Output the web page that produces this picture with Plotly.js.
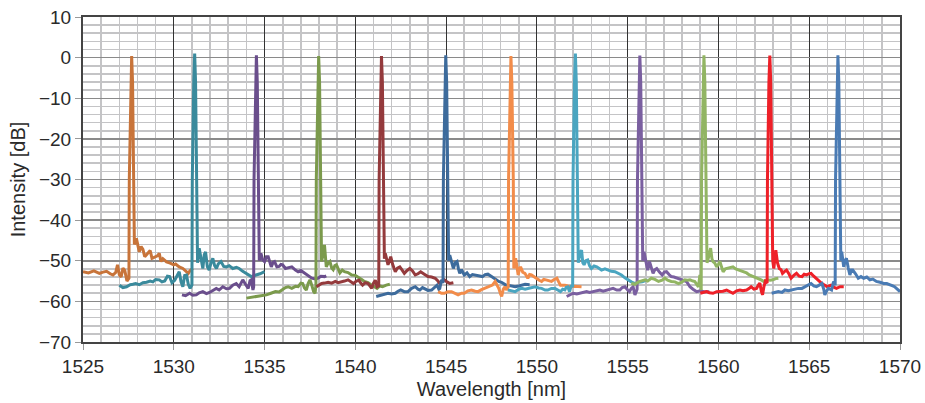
<!DOCTYPE html>
<html>
<head>
<meta charset="utf-8">
<script src="https://cdn.plot.ly/plotly-3.0.1.min.js"></script>
<style>html,body{margin:0;padding:0;background:#fff;}#chart{width:925px;height:403px;}</style>
</head>
<body>
<div id="chart"></div>
<script>
// Each series: [wavelength nm, intensity dB] pairs
const s1 = [[1525.0,-52.7],[1525.3,-53.0],[1525.6,-52.5],[1525.9,-53.1],[1526.1,-52.8],[1526.3,-52.6],[1526.5,-53.2],[1526.65,-53.5],[1526.8,-52.9],[1526.9,-51.0],[1527.0,-53.4],[1527.1,-54.0],[1527.2,-51.8],[1527.3,-52.4],[1527.42,-55.0],[1527.53,-54.3],[1527.55,-30],[1527.63,-6],[1527.68,0.4],[1527.73,-6],[1527.81,-30],[1527.83,-46],[1527.94,-44.5],[1528.02,-46.5],[1528.1,-47.8],[1528.2,-46.5],[1528.3,-47.2],[1528.4,-49.0],[1528.5,-48.5],[1528.6,-48.0],[1528.7,-47.5],[1528.8,-49.4],[1528.95,-49.0],[1529.1,-48.8],[1529.2,-48.2],[1529.3,-50.2],[1529.4,-49.5],[1529.6,-50.3],[1529.8,-50.6],[1530.0,-51.0],[1530.1,-50.8],[1530.3,-51.5],[1530.5,-51.9],[1530.65,-52.5],[1530.8,-53.1],[1530.9,-52.4],[1531.05,-51.9]];
const s2 = [[1527.0,-56.0],[1527.2,-56.6],[1527.4,-56.4],[1527.6,-55.9],[1527.75,-55.8],[1527.9,-55.6],[1528.1,-55.9],[1528.3,-55.4],[1528.5,-55.3],[1528.7,-55.0],[1528.85,-55.2],[1529.0,-54.6],[1529.2,-54.7],[1529.35,-55.2],[1529.5,-55.0],[1529.65,-53.8],[1529.77,-53.9],[1529.9,-55.4],[1530.05,-54.8],[1530.2,-53.5],[1530.3,-52.7],[1530.4,-55.2],[1530.5,-56.4],[1530.6,-53.6],[1530.7,-53.5],[1530.8,-55.8],[1530.9,-56.8],[1531.0,-56.0],[1531.02,-30],[1531.1,-6],[1531.15,1.0],[1531.2,-6],[1531.28,-30],[1531.31,-50.5],[1531.4,-46.9],[1531.5,-50],[1531.6,-51.9],[1531.68,-48.5],[1531.75,-47.8],[1531.85,-51.5],[1531.95,-52.3],[1532.05,-50.5],[1532.15,-49.4],[1532.25,-51.2],[1532.35,-51.9],[1532.45,-50.8],[1532.6,-50.2],[1532.75,-51.4],[1532.9,-51.5],[1533.05,-51.2],[1533.25,-51.9],[1533.45,-51.6],[1533.6,-51.9],[1533.8,-52.6],[1534.0,-53.1],[1534.15,-53.6],[1534.27,-53.9],[1534.4,-53.7],[1534.55,-53.5],[1534.75,-53.2],[1535.0,-52.7]];
const s3 = [[1530.45,-58.4],[1530.65,-58.6],[1530.87,-58.0],[1531.05,-58.5],[1531.24,-58.4],[1531.4,-57.9],[1531.6,-57.6],[1531.8,-58.1],[1531.97,-57.8],[1532.15,-57.3],[1532.34,-56.8],[1532.5,-57.2],[1532.7,-56.4],[1532.9,-56.9],[1533.07,-56.8],[1533.25,-56.0],[1533.44,-55.6],[1533.6,-56.4],[1533.8,-54.7],[1533.95,-55.8],[1534.1,-56.8],[1534.2,-54.9],[1534.27,-54.7],[1534.36,-57.2],[1534.4,-56.5],[1534.42,-30],[1534.5,-6],[1534.55,0.6],[1534.6,-6],[1534.68,-30],[1534.71,-50],[1534.8,-48.2],[1534.9,-49.8],[1535.0,-50.2],[1535.1,-49.0],[1535.2,-49.0],[1535.3,-50.6],[1535.37,-51.5],[1535.47,-50.4],[1535.55,-50.2],[1535.68,-51.5],[1535.8,-51.4],[1535.9,-50.9],[1536.0,-51.0],[1536.15,-51.9],[1536.3,-51.8],[1536.5,-51.5],[1536.7,-52.3],[1536.85,-52.7],[1537.0,-52.4],[1537.2,-53.1],[1537.4,-53.6],[1537.6,-54.3],[1537.8,-54.5],[1537.95,-54.3],[1538.1,-53.8],[1538.3,-53.9],[1538.4,-53.7]];
const s4 = [[1534.0,-59.2],[1534.25,-59.0],[1534.55,-58.7],[1534.8,-58.6],[1535.1,-58.4],[1535.35,-58.0],[1535.6,-57.6],[1535.8,-57.7],[1536.0,-57.0],[1536.15,-56.6],[1536.3,-56.4],[1536.5,-56.8],[1536.7,-56.3],[1536.85,-56.4],[1537.0,-55.5],[1537.1,-55.6],[1537.2,-56.7],[1537.3,-57.2],[1537.4,-55.6],[1537.5,-54.7],[1537.6,-56.0],[1537.7,-57.6],[1537.78,-58.0],[1537.83,-56.0],[1537.85,-30],[1537.93,-6],[1537.98,0.4],[1538.03,-6],[1538.11,-30],[1538.14,-50.2],[1538.22,-48.5],[1538.3,-46.1],[1538.4,-51.5],[1538.5,-50.6],[1538.6,-50.2],[1538.7,-51.8],[1538.78,-52.2],[1538.87,-51.2],[1538.96,-51.0],[1539.05,-52.2],[1539.15,-53.0],[1539.28,-52.3],[1539.4,-52.7],[1539.6,-52.9],[1539.8,-53.5],[1540.0,-53.6],[1540.2,-54.3],[1540.35,-54.6],[1540.5,-55.1],[1540.7,-55.4],[1540.9,-56.0],[1541.05,-56.5],[1541.2,-56.8],[1541.35,-56.2],[1541.5,-56.4],[1541.7,-56.0],[1541.9,-55.8]];
const s5 = [[1537.86,-56.4],[1538.0,-56.0],[1538.14,-55.6],[1538.3,-55.5],[1538.5,-55.3],[1538.7,-55.5],[1538.9,-55.1],[1539.05,-55.4],[1539.2,-55.3],[1539.4,-55.0],[1539.6,-54.7],[1539.75,-55.2],[1539.9,-55.6],[1540.05,-55.0],[1540.2,-54.8],[1540.3,-55.5],[1540.4,-56.0],[1540.55,-55.4],[1540.7,-55.6],[1540.8,-56.2],[1540.9,-56.8],[1541.0,-55.5],[1541.1,-54.8],[1541.2,-56.4],[1541.29,-56.2],[1541.31,-30],[1541.39,-6],[1541.44,0.4],[1541.49,-6],[1541.57,-30],[1541.6,-49.5],[1541.65,-48.2],[1541.72,-49.8],[1541.8,-51.0],[1541.88,-50.0],[1541.95,-49.0],[1542.05,-50.8],[1542.2,-52.7],[1542.32,-51.8],[1542.45,-51.5],[1542.58,-52.3],[1542.7,-53.1],[1542.85,-52.4],[1543.0,-51.9],[1543.15,-52.5],[1543.3,-53.5],[1543.45,-53.2],[1543.6,-52.7],[1543.8,-53.3],[1544.0,-53.9],[1544.2,-54.0],[1544.4,-54.3],[1544.55,-55.0],[1544.65,-55.6],[1544.78,-55.0],[1544.9,-54.7],[1545.05,-55.2],[1545.2,-55.6],[1545.4,-55.4]];
const s6 = [[1541.15,-58.8],[1541.3,-58.6],[1541.44,-58.4],[1541.6,-58.3],[1541.8,-58.0],[1542.0,-58.2],[1542.2,-58.0],[1542.35,-57.5],[1542.5,-57.2],[1542.7,-57.6],[1542.9,-57.6],[1543.1,-56.8],[1543.3,-56.4],[1543.45,-57.0],[1543.55,-57.2],[1543.7,-56.6],[1543.8,-56.8],[1544.0,-57.3],[1544.2,-57.2],[1544.35,-56.5],[1544.5,-56.0],[1544.6,-57.0],[1544.65,-56.8],[1544.75,-54.7],[1544.83,-55.5],[1544.85,-30],[1544.93,-6],[1544.98,0.6],[1545.03,-6],[1545.11,-30],[1545.14,-50.0],[1545.2,-48.6],[1545.3,-50.5],[1545.4,-51.9],[1545.5,-50.5],[1545.6,-50.2],[1545.68,-52.0],[1545.75,-53.1],[1545.85,-52.2],[1546.0,-53.5],[1546.15,-53.0],[1546.3,-53.9],[1546.45,-53.4],[1546.6,-53.5],[1546.8,-53.8],[1547.0,-53.9],[1547.15,-53.4],[1547.3,-53.3],[1547.5,-53.9],[1547.7,-54.5],[1547.9,-55.1],[1548.05,-55.3],[1548.15,-55.6],[1548.3,-56.0],[1548.4,-56.0],[1548.6,-56.2],[1548.8,-56.4],[1549.0,-56.2],[1549.16,-56.0],[1549.35,-55.8],[1549.6,-55.9]];
const s7 = [[1544.56,-57.6],[1544.75,-58.0],[1544.9,-58.0],[1545.1,-57.6],[1545.3,-57.6],[1545.5,-58.1],[1545.66,-58.4],[1545.85,-58.0],[1546.0,-58.0],[1546.2,-57.4],[1546.4,-57.2],[1546.6,-57.5],[1546.76,-57.6],[1546.95,-57.1],[1547.1,-56.8],[1547.25,-56.6],[1547.4,-56.4],[1547.55,-56.0],[1547.7,-55.1],[1547.8,-56.0],[1547.9,-56.8],[1548.0,-58.2],[1548.06,-58.8],[1548.15,-57.0],[1548.24,-56.4],[1548.32,-57.2],[1548.42,-56.5],[1548.44,-30],[1548.52,-6],[1548.57,0.4],[1548.62,-6],[1548.7,-30],[1548.73,-51.9],[1548.77,-50.5],[1548.83,-49.4],[1548.9,-51.5],[1548.97,-53.5],[1549.04,-52.0],[1549.1,-51.5],[1549.22,-52.8],[1549.34,-53.1],[1549.5,-54.3],[1549.6,-53.4],[1549.7,-53.5],[1549.85,-54.0],[1550.0,-54.3],[1550.13,-54.8],[1550.26,-55.1],[1550.38,-54.6],[1550.5,-54.7],[1550.65,-55.0],[1550.8,-55.1],[1550.95,-54.6],[1551.1,-54.3],[1551.2,-55.2],[1551.3,-56.0],[1551.42,-56.0],[1551.54,-56.0],[1551.7,-56.2],[1551.9,-56.4],[1552.05,-56.3],[1552.2,-56.4],[1552.46,-56.4]];
const s8 = [[1548.4,-57.2],[1548.6,-57.4],[1548.8,-57.6],[1549.0,-57.0],[1549.16,-56.8],[1549.35,-57.0],[1549.5,-56.8],[1549.7,-56.5],[1549.9,-56.4],[1550.1,-56.7],[1550.26,-56.8],[1550.45,-57.2],[1550.6,-57.2],[1550.8,-56.8],[1551.0,-56.8],[1551.15,-57.2],[1551.3,-57.6],[1551.42,-57.0],[1551.54,-57.2],[1551.62,-56.5],[1551.7,-56.4],[1551.8,-57.6],[1551.9,-56.0],[1551.97,-56.5],[1551.99,-30],[1552.07,-6],[1552.12,1.0],[1552.17,-6],[1552.25,-30],[1552.28,-50.5],[1552.32,-49.4],[1552.38,-48.0],[1552.46,-47.4],[1552.53,-50.5],[1552.6,-51.0],[1552.7,-50.0],[1552.8,-49.8],[1552.9,-51.2],[1553.0,-51.9],[1553.15,-51.3],[1553.3,-51.5],[1553.45,-52.0],[1553.56,-52.3],[1553.75,-52.0],[1553.93,-52.3],[1554.1,-52.6],[1554.3,-52.7],[1554.5,-53.2],[1554.66,-53.5],[1554.85,-54.2],[1555.0,-54.7],[1555.2,-55.2],[1555.4,-55.6],[1555.6,-55.3],[1555.8,-55.2],[1555.95,-54.9],[1556.1,-54.7]];
const s9 = [[1551.64,-58.8],[1551.8,-58.4],[1552.0,-58.0],[1552.2,-58.2],[1552.37,-58.0],[1552.55,-57.7],[1552.74,-57.6],[1552.9,-57.8],[1553.1,-57.6],[1553.3,-57.3],[1553.47,-57.2],[1553.65,-57.5],[1553.84,-57.2],[1554.0,-57.0],[1554.2,-56.8],[1554.4,-57.2],[1554.57,-57.2],[1554.7,-56.6],[1554.85,-56.4],[1555.0,-57.2],[1555.1,-57.6],[1555.2,-56.8],[1555.3,-56.4],[1555.4,-58.4],[1555.52,-57.0],[1555.54,-30],[1555.62,-6],[1555.67,0.5],[1555.72,-6],[1555.8,-30],[1555.83,-50.0],[1555.9,-47.8],[1556.0,-50.5],[1556.1,-52.3],[1556.2,-50.2],[1556.3,-51.5],[1556.4,-53.1],[1556.5,-52.2],[1556.6,-51.9],[1556.75,-52.8],[1556.9,-53.5],[1557.02,-52.8],[1557.14,-52.7],[1557.28,-53.4],[1557.4,-53.9],[1557.55,-54.0],[1557.7,-54.3],[1557.85,-54.4],[1558.0,-54.7],[1558.24,-55.1],[1558.43,-56.4],[1558.6,-57.0],[1558.8,-57.6],[1559.0,-57.4],[1559.2,-57.6],[1559.5,-57.6]];
const s10 = [[1555.2,-55.6],[1555.4,-55.8],[1555.6,-55.2],[1555.8,-55.0],[1555.95,-54.7],[1556.1,-55.0],[1556.3,-54.3],[1556.5,-54.6],[1556.7,-55.1],[1556.9,-54.8],[1557.05,-54.3],[1557.2,-54.8],[1557.4,-55.1],[1557.6,-55.2],[1557.8,-55.6],[1558.0,-55.2],[1558.15,-54.7],[1558.3,-54.8],[1558.43,-54.7],[1558.6,-55.0],[1558.7,-55.1],[1558.8,-55.8],[1558.9,-56.4],[1558.98,-53.5],[1559.05,-57.2],[1559.07,-30],[1559.15,-6],[1559.2,0.6],[1559.25,-6],[1559.33,-30],[1559.37,-50.5],[1559.44,-49.4],[1559.5,-48.0],[1559.57,-46.9],[1559.64,-49.5],[1559.7,-50.2],[1559.8,-50.6],[1559.9,-51.5],[1560.0,-50.8],[1560.08,-50.2],[1560.17,-51.5],[1560.26,-52.7],[1560.38,-52.0],[1560.5,-51.9],[1560.65,-51.6],[1560.8,-51.5],[1560.95,-52.0],[1561.1,-52.3],[1561.25,-52.5],[1561.4,-52.7],[1561.55,-53.0],[1561.7,-53.5],[1561.9,-53.9],[1562.05,-54.1],[1562.2,-54.3],[1562.35,-54.7],[1562.5,-55.1],[1562.7,-54.7],[1562.85,-54.8],[1563.0,-54.7],[1563.15,-54.4],[1563.3,-54.3]];
const s11 = [[1559.0,-58.0],[1559.2,-57.8],[1559.35,-57.6],[1559.5,-57.9],[1559.7,-58.0],[1559.9,-57.6],[1560.08,-57.6],[1560.25,-57.5],[1560.45,-57.2],[1560.6,-57.6],[1560.8,-58.0],[1561.0,-57.4],[1561.18,-57.2],[1561.35,-57.4],[1561.55,-57.2],[1561.7,-56.8],[1561.8,-56.4],[1561.95,-57.0],[1562.1,-56.8],[1562.2,-56.0],[1562.28,-55.5],[1562.36,-57.5],[1562.43,-58.4],[1562.5,-56.5],[1562.58,-55.1],[1562.68,-55.5],[1562.7,-30],[1562.78,-6],[1562.83,0.5],[1562.88,-6],[1562.96,-30],[1562.99,-50.0],[1563.05,-51.9],[1563.1,-49.0],[1563.16,-47.4],[1563.25,-50.5],[1563.35,-51.9],[1563.45,-52.2],[1563.53,-53.1],[1563.65,-52.6],[1563.75,-52.3],[1563.88,-53.2],[1564.0,-54.3],[1564.15,-53.6],[1564.3,-53.1],[1564.45,-53.8],[1564.6,-53.9],[1564.72,-53.3],[1564.85,-53.5],[1565.0,-53.2],[1565.1,-53.1],[1565.25,-53.8],[1565.4,-54.3],[1565.55,-55.0],[1565.7,-55.6],[1565.85,-56.0],[1566.0,-56.4],[1566.1,-56.2],[1566.2,-56.0],[1566.35,-56.5],[1566.5,-56.8],[1566.7,-56.4],[1566.9,-56.4]];
const s12 = [[1562.93,-58.0],[1563.1,-57.8],[1563.3,-57.6],[1563.5,-57.8],[1563.66,-57.2],[1563.85,-57.4],[1564.0,-57.2],[1564.2,-57.0],[1564.4,-56.8],[1564.6,-56.8],[1564.76,-56.4],[1564.95,-56.0],[1565.1,-55.6],[1565.25,-56.2],[1565.4,-56.4],[1565.55,-56.0],[1565.7,-55.6],[1565.8,-57.0],[1565.86,-58.4],[1565.95,-57.5],[1566.05,-56.8],[1566.15,-57.0],[1566.23,-57.2],[1566.34,-55.1],[1566.43,-56.0],[1566.45,-30],[1566.53,-6],[1566.58,0.6],[1566.63,-6],[1566.71,-30],[1566.74,-50.0],[1566.79,-47.8],[1566.84,-49.5],[1566.9,-51.5],[1566.98,-50.0],[1567.05,-49.4],[1567.15,-51.8],[1567.24,-53.5],[1567.32,-52.3],[1567.4,-52.3],[1567.55,-53.2],[1567.7,-54.3],[1567.85,-53.9],[1568.0,-54.3],[1568.17,-54.0],[1568.34,-54.7],[1568.5,-54.5],[1568.7,-55.1],[1568.9,-55.3],[1569.1,-55.6],[1569.27,-55.6],[1569.44,-56.0],[1569.6,-56.2],[1569.7,-56.4],[1569.85,-57.0],[1570.0,-57.6]];

const seriesList = [s1, s2, s3, s4, s5, s6, s7, s8, s9, s10, s11, s12];
const colors = ['#C8743A','#3A8A9C','#6A4E8C','#7B9A4C','#943A3C','#3D6B9C','#F28C4A','#4AA5C0','#7A5FA0','#92B563','#EE2028','#4A7BB4'];

const traces = seriesList.map((s, i) => ({
  type: 'scatter', mode: 'lines',
  x: s.map(p => p[0]), y: s.map(p => p[1]),
  line: {color: colors[i], width: 3},
  hoverinfo: 'skip', showlegend: false
}));

const font = {family: 'Liberation Sans, Arial, Helvetica, sans-serif', color: '#2a2a2a'};
const layout = {
  width: 925, height: 403,
  margin: {l: 83, r: 25, t: 17, b: 61},
  paper_bgcolor: '#fff', plot_bgcolor: '#fff',
  showlegend: false,
  font: font,
  xaxis: {
    range: [1525, 1570], dtick: 5, tick0: 1525,
    showgrid: true, gridcolor: '#333', gridwidth: 1,
    minor: {dtick: 1, showgrid: true, gridcolor: '#c4c4c6', gridwidth: 1.6, ticks: ''},
    zeroline: false,
    showline: true, linecolor: '#444', linewidth: 2, mirror: true,
    ticks: 'outside', ticklen: 6, tickcolor: '#999', tickwidth: 1,
    tickfont: {size: 19, family: font.family, color: '#2a2a2a'},
    title: {text: 'Wavelength [nm]', font: {size: 20, family: font.family, color: '#2a2a2a'}, standoff: 6}
  },
  yaxis: {
    range: [-70, 10], dtick: 10,
    showgrid: true, gridcolor: '#8a8a8a', gridwidth: 1.5,
    minor: {dtick: 2, showgrid: true, gridcolor: '#c4c4c6', gridwidth: 1.6, ticks: ''},
    zeroline: false,
    showline: true, linecolor: '#444', linewidth: 2, mirror: true,
    ticks: 'outside', ticklen: 6, tickcolor: '#999', tickwidth: 1,
    tickfont: {size: 19, family: font.family, color: '#2a2a2a'},
    title: {text: 'Intensity [dB]', font: {size: 20, family: font.family, color: '#2a2a2a'}, standoff: 8}
  }
};

Plotly.newPlot('chart', traces, layout, {staticPlot: true, displayModeBar: false});
</script>
</body>
</html>
